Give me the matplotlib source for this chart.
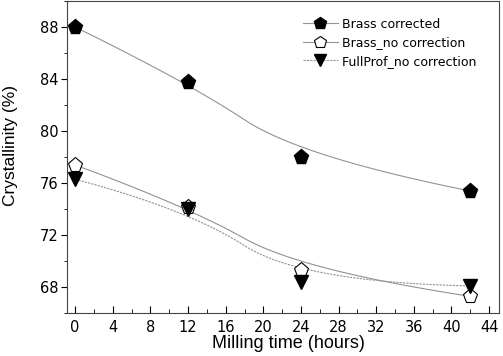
import numpy as np
import matplotlib
matplotlib.use('Agg')
import matplotlib.pyplot as plt
from matplotlib.ticker import MultipleLocator

plt.rcParams['font.family'] = ['DejaVu Sans']

hours = [0, 12, 24, 42]
brass_corr = [88.0, 83.75, 78.0, 75.4]
brass_nocorr = [77.4, 74.2, 69.3, 67.3]
fullprof_nocorr = [76.3, 74.0, 68.4, 68.1]

def bspline2(x, y, n=100):
    # quadratic clamped B-spline, data points used as control points
    p = np.column_stack([x, y]).astype(float)
    ends = [p[0]] + [(p[i] + p[i+1]) / 2 for i in range(1, len(p)-2)] + [p[-1]]
    s = np.linspace(0, 1, n)[:, None]
    pts = []
    for i in range(len(ends)-1):
        seg = (1-s)**2 * ends[i] + 2*s*(1-s) * p[i+1] + s**2 * ends[i+1]
        pts.append(seg)
    out = np.vstack(pts)
    return out[:, 0], out[:, 1]

fig = plt.figure(figsize=(5.03, 3.56), dpi=100)
ax = fig.add_axes([0.1326, 0.12, 0.8594, 0.877])

gray = '#939393'
bx, by = bspline2(hours, brass_corr)
ax.plot(bx, by, color=gray, lw=0.8)
bx, by = bspline2(hours, brass_nocorr)
ax.plot(bx, by, color=gray, lw=0.8)
bx, by = bspline2(hours, fullprof_nocorr)
ax.plot(bx, by, color=gray, lw=0.8, ls=(0, (2, 1)))

ax.plot(hours, brass_corr, 'p', color='black', ms=11)
ax.plot(hours, brass_nocorr, 'p', mfc='white', mec='black', mew=0.8, ms=11)
ax.plot(hours, fullprof_nocorr, 'v', color='black', ms=10)

# legend proxies
h1, = ax.plot([], [], color=gray, lw=0.8, marker='p', mfc='black', mec='black', ms=9)
h2, = ax.plot([], [], color=gray, lw=0.8, marker='p', mfc='white', mec='black', mew=0.8, ms=9)
h3, = ax.plot([], [], color=gray, lw=0.8, ls=(0, (2, 1)), marker='v', mfc='black', mec='black', ms=9)
ax.legend([h1, h2, h3], ['Brass corrected', 'Brass_no correction', 'FullProf_no correction'],
          loc='upper left', bbox_to_anchor=(0.5466, 0.947), frameon=False, fontsize=9,
          handlelength=2.8, handletextpad=0.3, labelspacing=0.44, borderpad=0, borderaxespad=0)

ax.set_xlim(-0.9, 45.05)
ax.set_ylim(66, 90)
ax.xaxis.set_major_locator(MultipleLocator(4))
ax.xaxis.set_minor_locator(MultipleLocator(2))
ax.yaxis.set_major_locator(MultipleLocator(4))
ax.yaxis.set_minor_locator(MultipleLocator(2))
ax.tick_params(axis='x', which='both', direction='in', labelsize=10.5, pad=5)
ax.tick_params(axis='x', which='major', length=5)
ax.tick_params(axis='x', which='minor', length=3)
ax.tick_params(axis='y', which='both', direction='out', labelsize=10.5)
ax.tick_params(axis='y', which='major', length=4, pad=2)
ax.tick_params(axis='y', which='minor', length=2)
for s in ax.spines.values():
    s.set_color('#444444')
    s.set_linewidth(0.8)

ax.set_xlabel('Milling time (hours)', fontsize=13, family='Liberation Sans')
ax.xaxis.set_label_coords(0.514, -0.0695)
ax.set_ylabel('Crystallinity (%)', fontsize=12.5, family='Liberation Sans')
ax.yaxis.set_label_coords(-0.1127, 0.537)

fig.savefig('out.png', dpi=100)
